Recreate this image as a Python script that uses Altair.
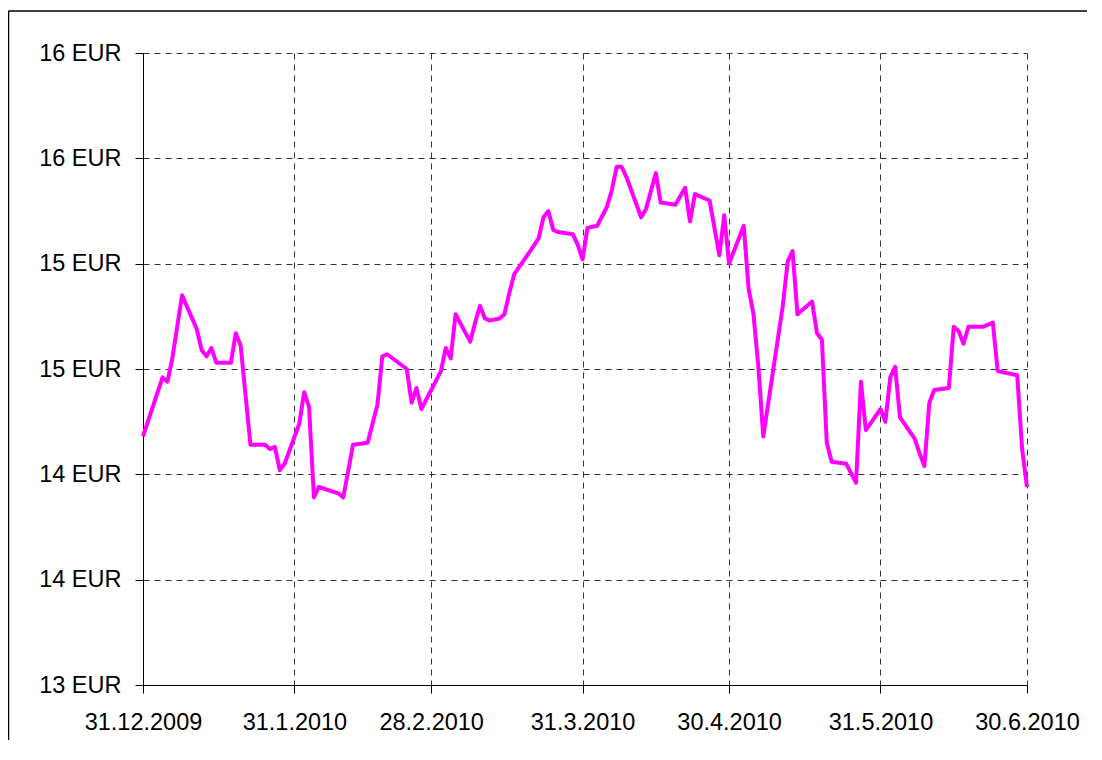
import altair as alt
import pandas as pd

# ---- data ----
dates = [
    "2009-12-31", "2010-01-04", "2010-01-05", "2010-01-06", "2010-01-08", "2010-01-11",
    "2010-01-12", "2010-01-13", "2010-01-14", "2010-01-15", "2010-01-18", "2010-01-19",
    "2010-01-20", "2010-01-22", "2010-01-25", "2010-01-26", "2010-01-27", "2010-01-28",
    "2010-01-29", "2010-02-01", "2010-02-02", "2010-02-03", "2010-02-04", "2010-02-05",
    "2010-02-09", "2010-02-10", "2010-02-12", "2010-02-15", "2010-02-17", "2010-02-18",
    "2010-02-19", "2010-02-23", "2010-02-24", "2010-02-25", "2010-02-26", "2010-03-02",
    "2010-03-03", "2010-03-04", "2010-03-05", "2010-03-08", "2010-03-09", "2010-03-10",
    "2010-03-11", "2010-03-12", "2010-03-14", "2010-03-15", "2010-03-16", "2010-03-17",
    "2010-03-20", "2010-03-22", "2010-03-23", "2010-03-24", "2010-03-25", "2010-03-26",
    "2010-03-29", "2010-03-30", "2010-03-31", "2010-04-01", "2010-04-03", "2010-04-05",
    "2010-04-06", "2010-04-07", "2010-04-08", "2010-04-09", "2010-04-12", "2010-04-13",
    "2010-04-15", "2010-04-16", "2010-04-19", "2010-04-21", "2010-04-22", "2010-04-23",
    "2010-04-26", "2010-04-28", "2010-04-29", "2010-04-30", "2010-05-03", "2010-05-04",
    "2010-05-05", "2010-05-06", "2010-05-07", "2010-05-11", "2010-05-12", "2010-05-13",
    "2010-05-14", "2010-05-17", "2010-05-18", "2010-05-19", "2010-05-20", "2010-05-21",
    "2010-05-24", "2010-05-26", "2010-05-27", "2010-05-28", "2010-05-31", "2010-06-01",
    "2010-06-02", "2010-06-03", "2010-06-04", "2010-06-07", "2010-06-08", "2010-06-09",
    "2010-06-10", "2010-06-11", "2010-06-14", "2010-06-15", "2010-06-16", "2010-06-17",
    "2010-06-18", "2010-06-21", "2010-06-23", "2010-06-24", "2010-06-28", "2010-06-29",
    "2010-06-30",
]
prices = [
    14.18, 14.46, 14.44, 14.55, 14.85, 14.69,
    14.59, 14.56, 14.60, 14.53, 14.53, 14.67,
    14.61, 14.14, 14.14, 14.12, 14.13, 14.02,
    14.05, 14.24, 14.39, 14.32, 13.89, 13.94,
    13.91, 13.89, 14.14, 14.15, 14.33, 14.56,
    14.57, 14.50, 14.34, 14.41, 14.31, 14.49,
    14.60, 14.55, 14.76, 14.63, 14.72, 14.80,
    14.74, 14.73, 14.74, 14.76, 14.86, 14.95,
    15.05, 15.12, 15.22, 15.25, 15.16, 15.15,
    15.14, 15.09, 15.02, 15.17, 15.18, 15.27,
    15.35, 15.46, 15.46, 15.41, 15.22, 15.26,
    15.43, 15.29, 15.28, 15.36, 15.20, 15.33,
    15.30, 15.04, 15.23, 15.00, 15.18, 14.88,
    14.76, 14.51, 14.18, 14.80, 15.01, 15.06,
    14.76, 14.82, 14.67, 14.64, 14.15, 14.06,
    14.05, 13.96, 14.44, 14.21, 14.31, 14.25,
    14.46, 14.51, 14.27, 14.17, 14.10, 14.04,
    14.34, 14.40, 14.41, 14.70, 14.68, 14.62,
    14.70, 14.70, 14.72, 14.49, 14.47, 14.12,
    13.94,
]
x_tick_dates = ["2009-12-31", "2010-01-31", "2010-02-28", "2010-03-31",
                "2010-04-30", "2010-05-31", "2010-06-30"]
y_tick_values = [13, 13.5, 14, 14.5, 15, 15.5, 16]
y_domain = [13, 16]


def dt(s):
    y, m, d = (int(p) for p in s.split("-"))
    return alt.DateTime(year=y, month=m, date=d)


df = pd.DataFrame({"date": [d + "T00:00:00" for d in dates], "price": prices})

FONT = "Liberation Sans"

line = alt.Chart(df).mark_line(
    color="#FF00FF", strokeWidth=4, strokeJoin="round"
).encode(
    x=alt.X(
        "date:T",
        scale=alt.Scale(domain=[dt(x_tick_dates[0]), dt(x_tick_dates[-1])], nice=False),
        axis=alt.Axis(
            title=None,
            values=[dt(s) for s in x_tick_dates],
            format="%-d.%-m.%Y",
            labelFont=FONT, labelFontSize=23.5, labelColor="#000000",
            labelPadding=17, labelFlush=False, labelOverlap=False,
            tickSize=8, tickColor="#000000", tickWidth=1,
            domainColor="#000000", domainWidth=1,
            grid=True, gridDash=[6, 5], gridColor="#333333", gridWidth=1, gridOpacity=1,
        ),
    ),
    y=alt.Y(
        "price:Q",
        scale=alt.Scale(domain=y_domain, nice=False, zero=False),
        axis=alt.Axis(
            title=None,
            values=y_tick_values,
            labelExpr="round(datum.value) + ' EUR'",
            labelFont=FONT, labelFontSize=23.5, labelColor="#000000",
            labelPadding=14, labelOverlap=False,
            tickSize=8, tickColor="#000000", tickWidth=1,
            domainColor="#000000", domainWidth=1,
            grid=True, gridDash=[6, 5], gridColor="#333333", gridWidth=1, gridOpacity=1,
        ),
    ),
)

frame_src = alt.Data(values=[{"f": 1}])
frame_top = alt.Chart(frame_src).mark_rule(color="#000000", strokeWidth=1.5).encode(
    x=alt.value(-134.5), x2=alt.value(1300), y=alt.value(-42),
)
frame_left = alt.Chart(frame_src).mark_rule(color="#000000", strokeWidth=1.5).encode(
    x=alt.value(-134.5), y=alt.value(-42), y2=alt.value(1000),
)

chart = alt.layer(frame_top, frame_left, line).properties(
    width=884, height=632,
    autosize=alt.AutoSizeParams(type="none"),
    padding={"left": 135, "top": 45, "right": 60, "bottom": 55},
).configure_view(strokeWidth=0)

chart.save("out.html", embed_options={"renderer": "svg", "actions": False})
